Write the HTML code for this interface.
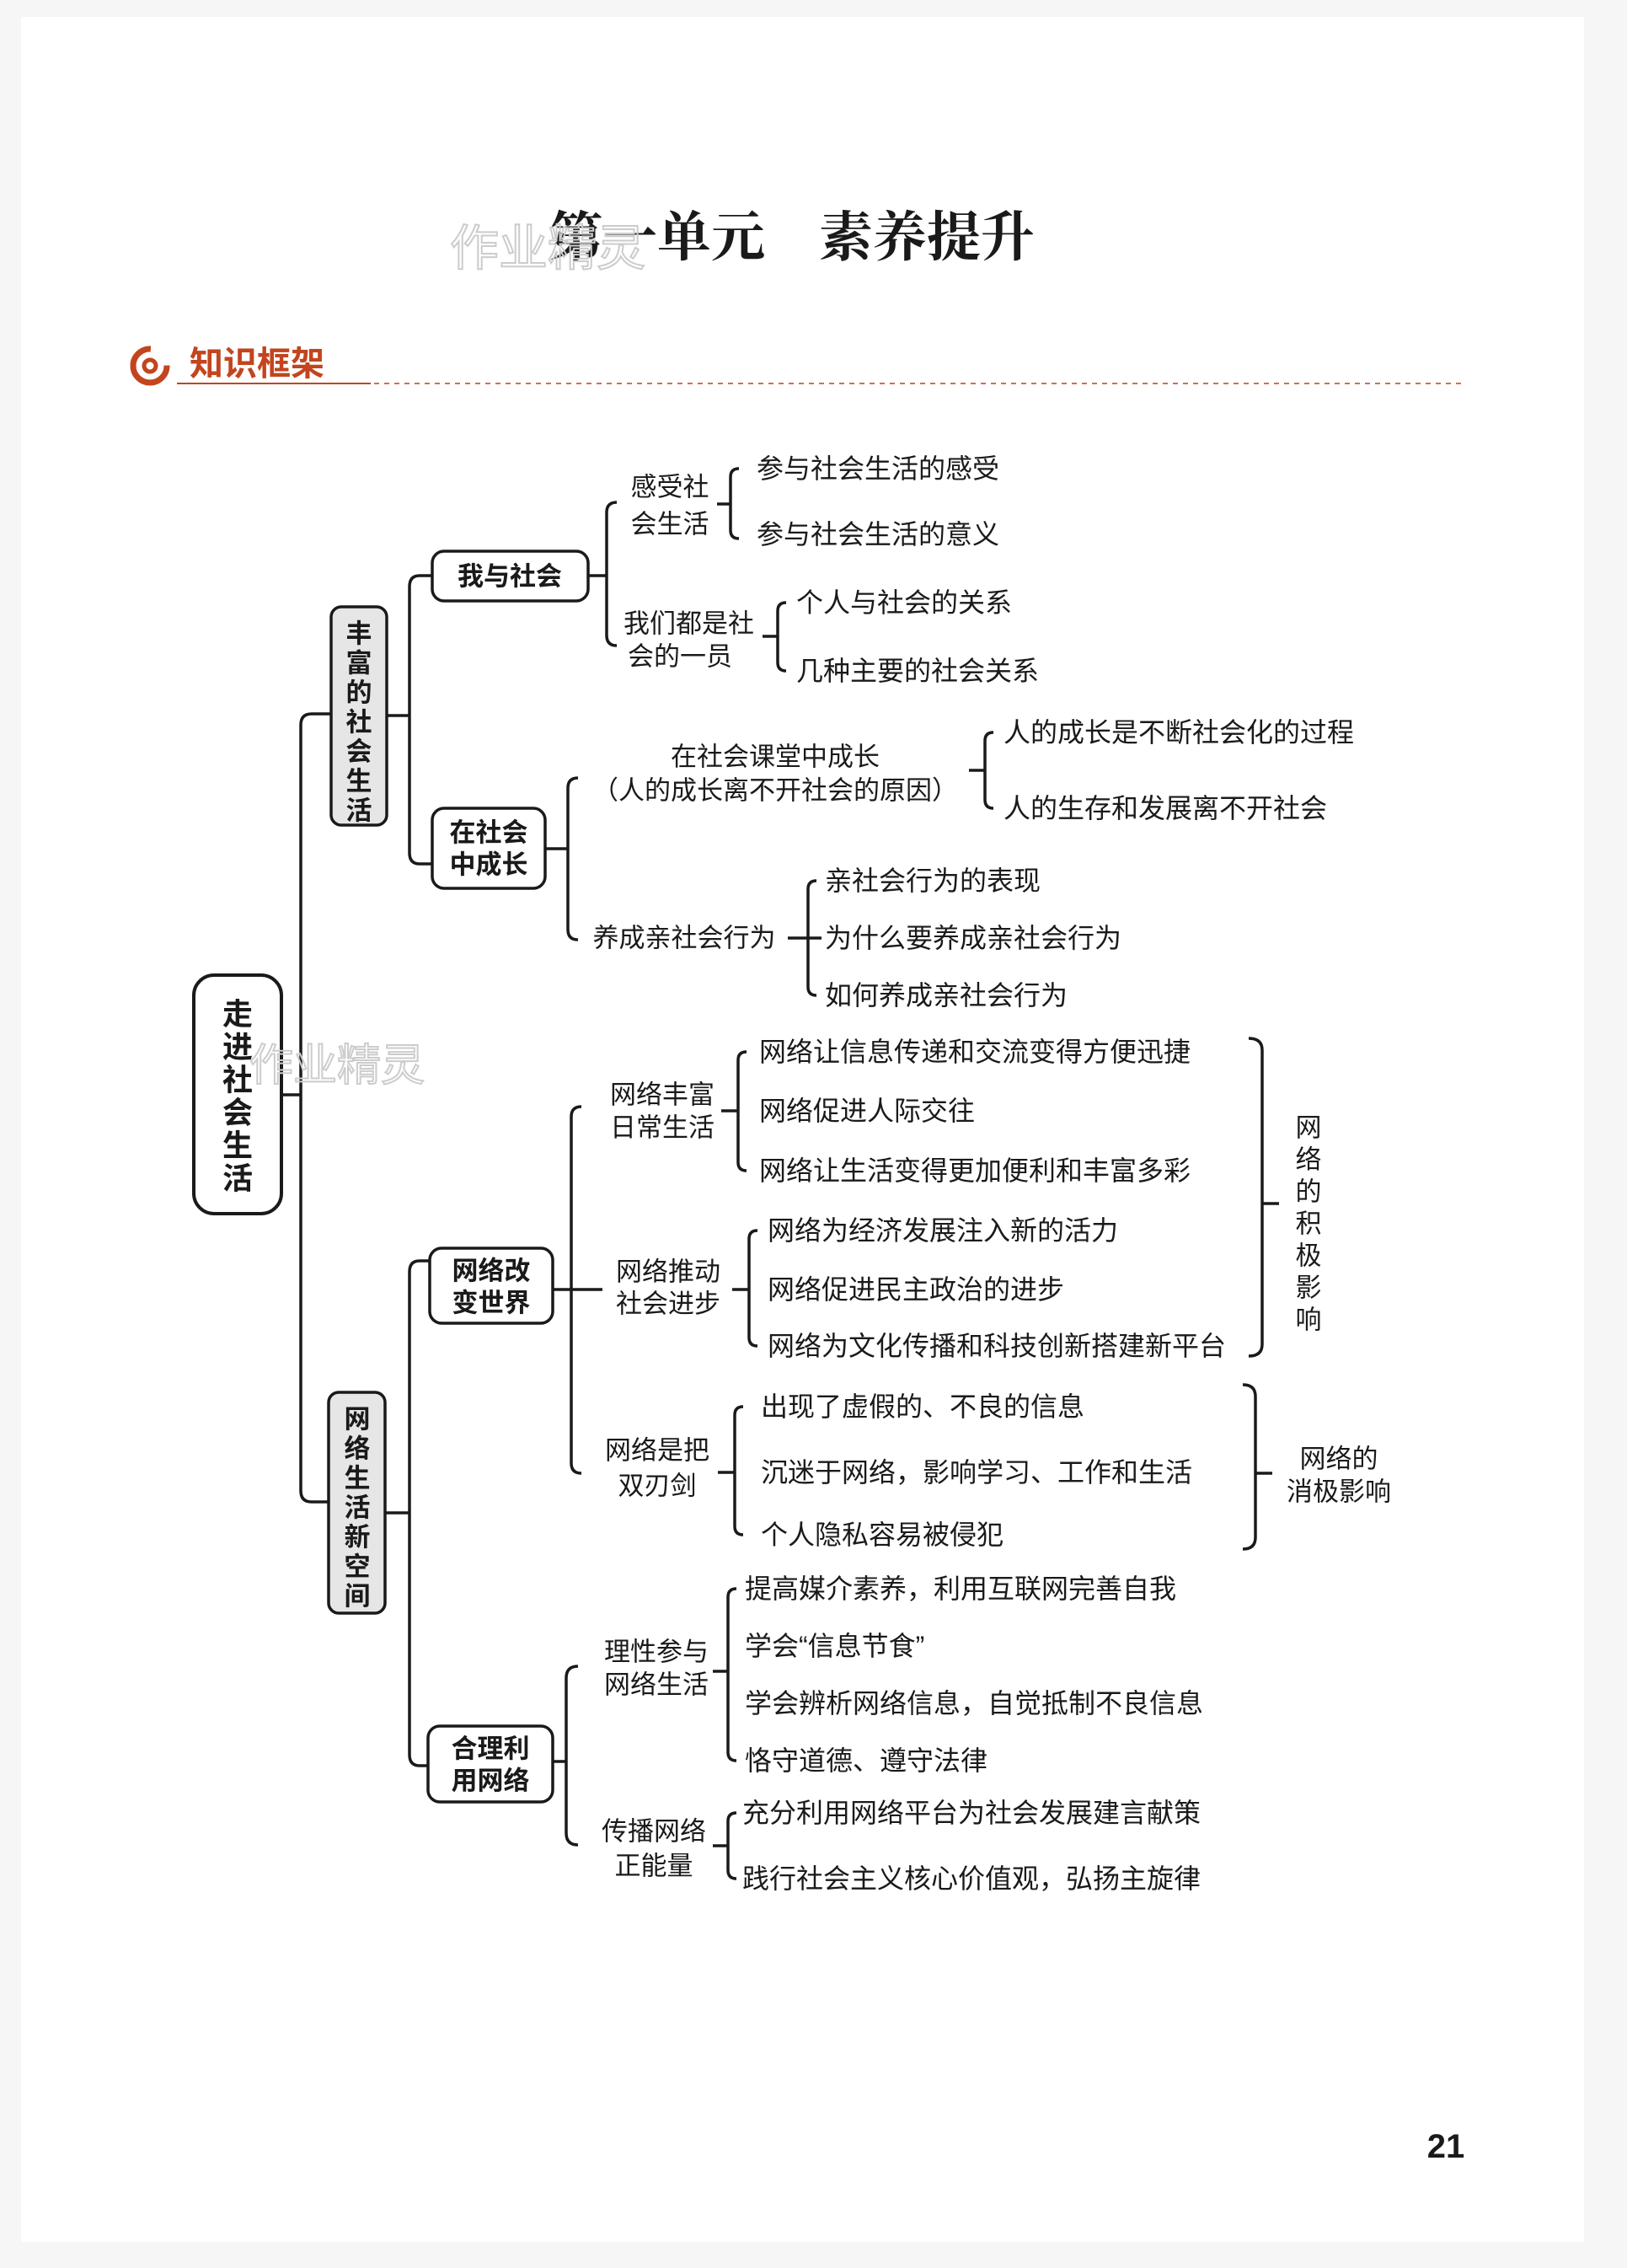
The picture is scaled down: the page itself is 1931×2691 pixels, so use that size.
<!DOCTYPE html>
<html><head><meta charset="utf-8"><style>
html,body{margin:0;padding:0;background:#fff;}
svg{display:block;}
text{font-family:"Liberation Sans","Noto Sans CJK SC",sans-serif;fill:#1a1a1a;}
.t{font-size:32px;dominant-baseline:central;}
.b{font-size:31px;font-weight:bold;dominant-baseline:central;text-anchor:middle;}
.m{font-size:31px;dominant-baseline:central;text-anchor:middle;}
.s{font-size:31px;dominant-baseline:central;text-anchor:start;}
</style></head><body>
<svg width="1931" height="2691" viewBox="0 0 1931 2691" xmlns="http://www.w3.org/2000/svg">
<rect x="0" y="0" width="1931" height="2691" fill="#f6f6f6"/>
<rect x="25" y="20" width="1855" height="2640" fill="#fff"/>
<text x="940" y="282" style="font-family:'Liberation Serif','Noto Serif CJK SC',serif;font-size:64px;font-weight:bold;dominant-baseline:central;text-anchor:middle">第一单元　素养提升</text>
<text x="650" y="295" style="font-size:58px;fill:none;stroke:#ccc;stroke-width:2;dominant-baseline:central;text-anchor:middle">作业精灵</text>
<circle cx="178" cy="434" r="20" fill="none" stroke="#c2451e" stroke-width="7" stroke-dasharray="95 30"/>
<circle cx="178" cy="434" r="7" fill="none" stroke="#c2451e" stroke-width="5"/>
<text x="225" y="432" style="font-size:40px;font-weight:bold;fill:#c2451e;dominant-baseline:central">知识框架</text>
<line x1="210" y1="455" x2="440" y2="455" stroke="#c2451e" stroke-width="2"/>
<line x1="444" y1="455" x2="1735" y2="455" stroke="#d0704e" stroke-width="2" stroke-dasharray="6 6"/>
<g fill="none" stroke="#1a1a1a" stroke-width="3.5">
<rect x="230" y="1157" width="104" height="283" rx="24" stroke-width="4"/>
<line x1="334" y1="1299" x2="357" y2="1299"/>
<path d="M393 847 H370 Q357 847 357 860 V1769 Q357 1782 370 1782 H390"/>
<rect x="393" y="720" width="66" height="259" rx="12" fill="#e6e6e6"/>
<rect x="390" y="1652" width="67" height="262" rx="12" fill="#e6e6e6"/>
<line x1="459" y1="849" x2="486" y2="849"/>
<path d="M513 683 H498 Q486 683 486 696 V1012 Q486 1025 498 1025 H513"/>
<line x1="457" y1="1795" x2="486" y2="1795"/>
<path d="M510 1496 H498 Q486 1496 486 1509 V2082 Q486 2095 498 2095 H508"/>
<rect x="513" y="654" width="185" height="59" rx="14"/>
<rect x="513" y="959" width="134" height="95" rx="14"/>
<rect x="510" y="1481" width="146" height="89" rx="14"/>
<rect x="508" y="2048" width="148" height="90" rx="14"/>
<line x1="698" y1="683" x2="720" y2="683"/>
<path d="M732 596 Q720 596 720 608 V754 Q720 766 732 766"/>
<path d="M877 556 Q867 556 867 566 V629 Q867 639 877 639 M851 598 H867"/>
<path d="M933 715 Q923 715 923 725 V786 Q923 796 933 796 M905 755 H923"/>
<line x1="647" y1="1007" x2="674" y2="1007"/>
<path d="M686 923 Q674 923 674 935 V1103 Q674 1115 686 1115"/>
<path d="M1179 869 Q1169 869 1169 879 V949 Q1169 959 1179 959 M1150 914 H1169"/>
<path d="M969 1045 Q959 1045 959 1055 V1171 Q959 1181 969 1181 M935 1113 H975"/>
<line x1="656" y1="1530" x2="678" y2="1530"/>
<path d="M690 1313 Q678 1313 678 1325 V1736 Q678 1748 690 1748 M678 1530 H715"/>
<path d="M886 1248 Q876 1248 876 1258 V1379 Q876 1389 886 1389 M856 1318 H876"/>
<path d="M899 1460 Q889 1460 889 1470 V1587 Q889 1597 899 1597 M869 1530 H889"/>
<path d="M882 1669 Q872 1669 872 1679 V1811 Q872 1821 882 1821 M852 1747 H872"/>
<path d="M1482 1232 Q1498 1232 1498 1246 V1595 Q1498 1609 1482 1609 M1498 1428 H1518"/>
<path d="M1475 1643 Q1490 1643 1490 1657 V1824 Q1490 1838 1475 1838 M1490 1748 H1510"/>
<line x1="656" y1="2090" x2="672" y2="2090"/>
<path d="M686 1977 Q672 1977 672 1991 V2175 Q672 2189 686 2189"/>
<path d="M874 1885 Q864 1885 864 1895 V2079 Q864 2089 874 2089 M846 1983 H864"/>
<path d="M874 2151 Q864 2151 864 2161 V2219 Q864 2229 874 2229 M846 2190 H864"/>
</g>
<text class="b" x="282" y="1203" style="font-size:36px">走</text>
<text class="b" x="282" y="1242" style="font-size:36px">进</text>
<text class="b" x="282" y="1281" style="font-size:36px">社</text>
<text class="b" x="282" y="1320" style="font-size:36px">会</text>
<text class="b" x="282" y="1359" style="font-size:36px">生</text>
<text class="b" x="282" y="1398" style="font-size:36px">活</text>
<text x="400" y="1265" style="font-size:52px;fill:none;stroke:#ccc;stroke-width:2;dominant-baseline:central;text-anchor:middle">作业精灵</text>
<text class="b" x="426" y="752">丰</text><text class="b" x="426" y="787">富</text><text class="b" x="426" y="822">的</text><text class="b" x="426" y="857">社</text><text class="b" x="426" y="892">会</text><text class="b" x="426" y="927">生</text><text class="b" x="426" y="962">活</text>
<text class="b" x="424" y="1684">网</text><text class="b" x="424" y="1719">络</text><text class="b" x="424" y="1754">生</text><text class="b" x="424" y="1789">活</text><text class="b" x="424" y="1824">新</text><text class="b" x="424" y="1859">空</text><text class="b" x="424" y="1894">间</text>
<text class="b" x="605" y="684">我与社会</text>
<text class="b" x="580" y="988">在社会</text><text class="b" x="580" y="1026">中成长</text>
<text class="b" x="583" y="1508">网络改</text><text class="b" x="583" y="1546">变世界</text>
<text class="b" x="582" y="2075">合理利</text><text class="b" x="582" y="2113">用网络</text>
<text class="m" x="795" y="578">感受社</text><text class="m" x="795" y="622">会生活</text>
<text class="s" x="740" y="740">我们都是社</text><text class="s" x="745" y="779">会的一员</text>
<text class="m" x="920" y="898">在社会课堂中成长</text>
<text class="m" x="920" y="938">（人的成长离不开社会的原因）</text>
<text class="m" x="812" y="1113">养成亲社会行为</text>
<text class="m" x="786" y="1299">网络丰富</text><text class="m" x="786" y="1338">日常生活</text>
<text class="m" x="793" y="1509">网络推动</text><text class="m" x="793" y="1547">社会进步</text>
<text class="m" x="780" y="1721">网络是把</text><text class="m" x="780" y="1763">双刃剑</text>
<text class="m" x="779" y="1960">理性参与</text><text class="m" x="779" y="1999">网络生活</text>
<text class="m" x="776" y="2173">传播网络</text><text class="m" x="776" y="2214">正能量</text>
<text class="m" x="1553" y="1338">网</text><text class="m" x="1553" y="1376">络</text><text class="m" x="1553" y="1414">的</text><text class="m" x="1553" y="1452">积</text><text class="m" x="1553" y="1490">极</text><text class="m" x="1553" y="1528">影</text><text class="m" x="1553" y="1566">响</text>
<text class="m" x="1589" y="1731">网络的</text><text class="m" x="1589" y="1770">消极影响</text>
<text class="t" x="898" y="556">参与社会生活的感受</text>
<text class="t" x="898" y="634">参与社会生活的意义</text>
<text class="t" x="945" y="715">个人与社会的关系</text>
<text class="t" x="945" y="796">几种主要的社会关系</text>
<text class="t" x="1191" y="869">人的成长是不断社会化的过程</text>
<text class="t" x="1191" y="959">人的生存和发展离不开社会</text>
<text class="t" x="979" y="1045">亲社会行为的表现</text>
<text class="t" x="979" y="1113">为什么要养成亲社会行为</text>
<text class="t" x="979" y="1181">如何养成亲社会行为</text>
<text class="t" x="901" y="1248">网络让信息传递和交流变得方便迅捷</text>
<text class="t" x="901" y="1318">网络促进人际交往</text>
<text class="t" x="901" y="1389">网络让生活变得更加便利和丰富多彩</text>
<text class="t" x="911" y="1460">网络为经济发展注入新的活力</text>
<text class="t" x="911" y="1530">网络促进民主政治的进步</text>
<text class="t" x="911" y="1597">网络为文化传播和科技创新搭建新平台</text>
<text class="t" x="903" y="1669">出现了虚假的、不良的信息</text>
<text class="t" x="903" y="1747">沉迷于网络，影响学习、工作和生活</text>
<text class="t" x="903" y="1821">个人隐私容易被侵犯</text>
<text class="t" x="884" y="1885">提高媒介素养，利用互联网完善自我</text>
<text class="t" x="884" y="1953">学会“信息节食”</text>
<text class="t" x="884" y="2021">学会辨析网络信息，自觉抵制不良信息</text>
<text class="t" x="884" y="2089">恪守道德、遵守法律</text>
<text class="t" x="881" y="2151">充分利用网络平台为社会发展建言献策</text>
<text class="t" x="881" y="2229">践行社会主义核心价值观，弘扬主旋律</text>
<text x="1716" y="2547" style="font-size:40px;font-weight:bold;dominant-baseline:central;text-anchor:middle">21</text>
</svg>
</body></html>
